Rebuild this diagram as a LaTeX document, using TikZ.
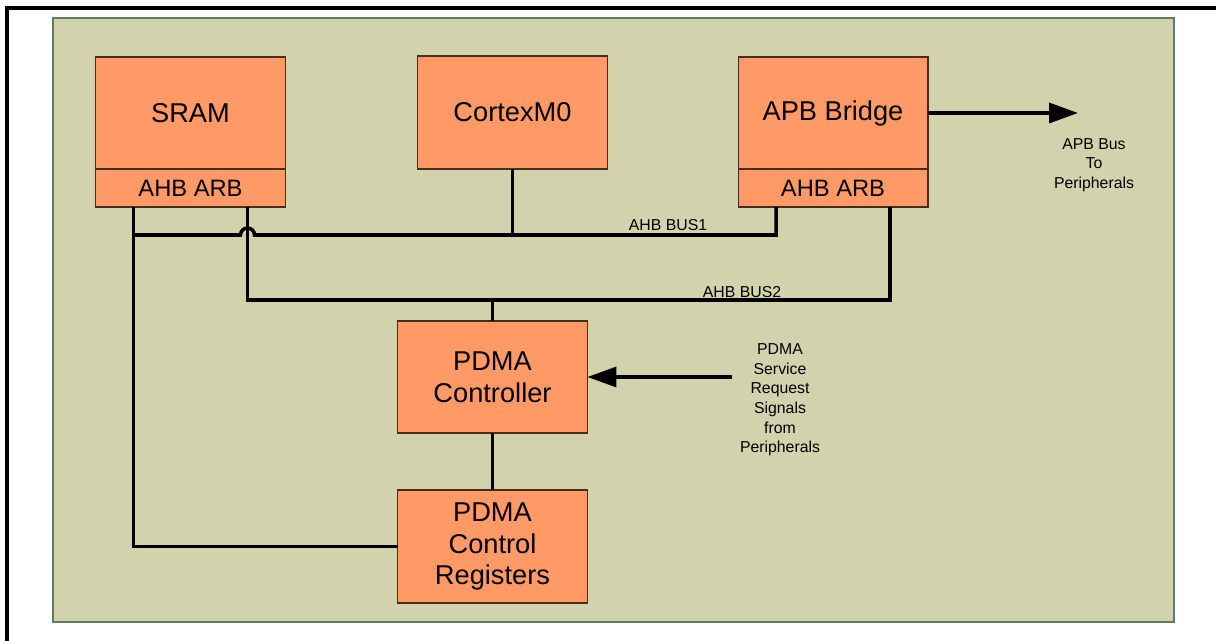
\documentclass[tikz,border=0pt]{standalone}
\usepackage{fontspec}
\setmainfont{Liberation Sans}
\usetikzlibrary{arrows.meta,calc}

\definecolor{blockfill}{RGB}{255,153,102}
\definecolor{blockline}{RGB}{70,45,30}
\definecolor{panelfill}{RGB}{210,211,172}
\definecolor{panelline}{RGB}{95,125,95}

\begin{document}
\begin{tikzpicture}[x=0.02cm, y=-0.02cm, >={Triangle[length=0.58cm,width=0.4cm]},
  block/.style={draw=blockline, fill=blockfill, line width=0.6pt, inner sep=0pt, outer sep=0pt,
    minimum width=3.8cm, align=center, font=\fontsize{15.5}{18}\selectfont},
  arb/.style={block, minimum height=0.76cm, font=\fontsize{13.5}{16}\selectfont},
  bus/.style={line width=2pt},
  lbl/.style={font=\fontsize{9}{11.2}\selectfont, align=center, inner sep=0pt}]
  \useasboundingbox (0,0) rectangle (1216,641);

  % Frame and panel
  \draw[line width=1.8pt] (7,641) -- (7,8) -- (1216,8);
  \draw[fill=panelfill, draw=panelline, line width=0.8pt] (53,18) rectangle (1174,622);

  % Blocks
  \node[block, minimum height=2.24cm] (sram) at (190.5,113) {SRAM};
  \node[arb] (sramarb) at (190.5,188) {AHB ARB};
  \node[block, minimum height=2.26cm] (cortex) at (512.5,112.5) {CortexM0};
  \node[block, minimum height=2.24cm] (apb) at (833,113) {APB Bridge};
  \node[arb] (apbarb) at (833,188) {AHB ARB};
  \node[block, minimum height=2.24cm] (pdma) at (492.5,377) {PDMA\\Controller};
  \node[block, minimum height=2.26cm] (regs) at (492.5,546.5) {PDMA\\Control\\Registers};

  % Bus taps
  \coordinate (sa1) at ($(sramarb.south west)!0.2!(sramarb.south east)$);
  \coordinate (sa2) at ($(sramarb.south west)!0.8!(sramarb.south east)$);
  \coordinate (aa1) at ($(apbarb.south west)!0.2!(apbarb.south east)$);
  \coordinate (aa2) at ($(apbarb.south west)!0.8!(apbarb.south east)$);
  \coordinate (bus1) at (0,235);
  \coordinate (bus2) at (0,300);
  \coordinate (apbout) at (1078,113);
  \coordinate (reqin) at (732,377);

  % AHB BUS1
  \draw[bus] (sa1) -- (sa1 |- regs.west) -- (regs.west);
  \draw[bus] (sa1 |- bus1) -- ($(sa2 |- bus1)+(-7,0)$)
    arc[start angle=180, end angle=0, radius=0.14cm] -- (aa1 |- bus1) -- (aa1);
  \draw[bus] (cortex.south) -- (cortex.south |- bus1);
  \node[lbl] (bus1lbl) at (668,225) {AHB BUS1};

  % AHB BUS2
  \draw[bus] (sa2) -- (sa2 |- bus2) -- (aa2 |- bus2) -- (aa2);
  \draw[bus] (pdma.north) -- (pdma.north |- bus2);
  \node[lbl] (bus2lbl) at (742,292) {AHB BUS2};

  % PDMA path
  \draw[bus] (pdma.south) -- (regs.north);

  % Outside signals
  \draw[bus, ->] (apb.east |- apbout) -- (apbout);
  \node[lbl] (apbtxt) at (1094,165) {APB Bus\\To\\Peripherals};
  \draw[bus, ->] (reqin) -- (pdma.east);
  \node[lbl] (reqtxt) at (780,400) {PDMA\\Service\\Request\\Signals\\from\\Peripherals};
\end{tikzpicture}
\end{document}
